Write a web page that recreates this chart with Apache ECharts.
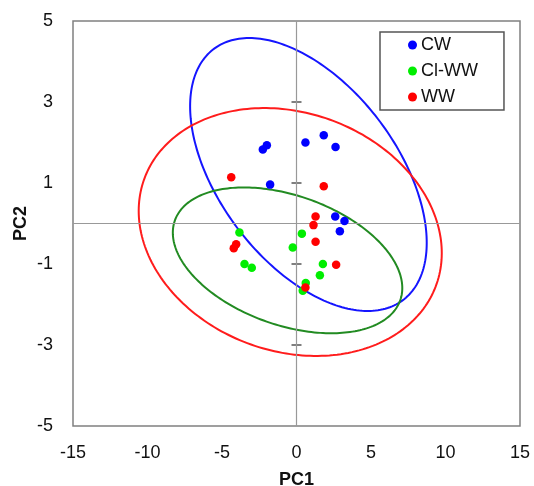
<!DOCTYPE html>
<html>
<head>
<meta charset="utf-8">
<script src="https://cdn.jsdelivr.net/npm/echarts@6/dist/echarts.min.js"></script>
<style>
html,body{margin:0;padding:0;background:#fff;}
#chart{width:534px;height:486px;}
</style>
</head>
<body>
<div id="chart"></div>
<script>
// ---- data ----
const groupNames = ['CW', 'Cl-WW', 'WW'];
const cwPoints = [[-2.26, 1.83], [-1.99, 1.93], [0.60, 2.00], [1.83, 2.18], [2.62, 1.89], [-1.77, 0.96], [2.60, 0.17], [3.22, 0.06], [2.91, -0.19]];
const clwwPoints = [[-3.83, -0.22], [0.36, -0.25], [-0.25, -0.59], [-3.49, -1.00], [-3.00, -1.09], [1.77, -1.00], [1.57, -1.28], [0.62, -1.47], [0.42, -1.66]];
const wwPoints = [[-4.38, 1.14], [1.83, 0.92], [1.28, 0.17], [1.14, -0.04], [1.28, -0.45], [-4.05, -0.51], [-4.21, -0.61], [2.66, -1.02], [0.60, -1.58]];
// confidence ellipses: centre, half-extent on PC1, half-extent on PC2, correlation
const ellipseCenters = [[0.80, 1.21], [-0.60, -0.91], [-0.42, -0.21]];
const ellipseHalfPC1 = [7.94, 7.70, 10.17];
const ellipseHalfPC2 = [3.37, 1.80, 3.06];
const ellipseCorr = [-0.50, -0.38, -0.17];
const xTicks = [-15, -10, -5, 0, 5, 10, 15];
const yTicks = [-5, -3, -1, 1, 3, 5];
const centerTicks = [-3, -1, 1, 3];

const pointColors = ['#0000ff', '#00ee00', '#ff0000'];
const ellipseColors = ['#1515ff', '#228b22', '#ff1c1c'];
const groupPoints = [cwPoints, clwwPoints, wwPoints];

const chart = echarts.init(document.getElementById('chart'));
const font = '"Liberation Sans", Arial, sans-serif';

const ellipseSeries = groupNames.map((name, i) => ({
  type: 'custom',
  name: name + ' ellipse',
  silent: true,
  z: 3,
  data: [ellipseCenters[i]],
  renderItem: function (params, api) {
    const c = ellipseCenters[i];
    const hx = ellipseHalfPC1[i], hy = ellipseHalfPC2[i], r = ellipseCorr[i];
    const s = Math.sqrt(1 - r * r);
    const pts = [];
    const n = 240;
    for (let k = 0; k <= n; k++) {
      const t = 2 * Math.PI * k / n;
      pts.push(api.coord([c[0] + hx * Math.cos(t), c[1] + hy * (r * Math.cos(t) + s * Math.sin(t))]));
    }
    return {
      type: 'polyline',
      shape: { points: pts },
      style: { stroke: ellipseColors[i], lineWidth: 2, fill: null }
    };
  }
}));

const tickSeries = {
  type: 'custom',
  name: 'centre ticks',
  silent: true,
  z: 2,
  data: centerTicks.map(v => [0, v]),
  renderItem: function (params, api) {
    const p = api.coord([api.value(0), api.value(1)]);
    return {
      type: 'line',
      shape: { x1: p[0] - 5, y1: p[1], x2: p[0] + 5, y2: p[1] },
      style: { stroke: '#555', lineWidth: 1.5 }
    };
  }
};

const scatterSeries = groupNames.map((name, i) => ({
  type: 'scatter',
  name: name,
  z: 5,
  symbol: 'circle',
  symbolSize: 8.5,
  itemStyle: { color: pointColors[i], opacity: 1 },
  data: groupPoints[i],
  markLine: i === 0 ? {
    silent: true,
    symbol: ['none', 'none'],
    label: { show: false },
    lineStyle: { color: '#999', width: 1.2, type: 'solid' },
    data: [{ xAxis: 0 }, { yAxis: 0 }]
  } : undefined
}));

chart.setOption({
  animation: false,
  backgroundColor: '#ffffff',
  grid: {
    left: 73, right: 14, top: 21, bottom: 60,
    outerBoundsMode: 'none',
    containLabel: false,
    show: true, borderColor: '#808080', borderWidth: 1.5, backgroundColor: 'transparent'
  },
  legend: {
    data: groupNames,
    orient: 'vertical',
    left: 380, top: 32,
    padding: [4, 26, 4, 28],
    itemGap: 8,
    itemWidth: 9, itemHeight: 9,
    icon: 'circle',
    borderColor: '#555', borderWidth: 1.5,
    backgroundColor: '#fff',
    textStyle: { fontFamily: font, fontSize: 18, color: '#111', padding: [0, 0, 0, -1] }
  },
  xAxis: {
    type: 'value',
    min: xTicks[0], max: xTicks[xTicks.length - 1], interval: 5,
    axisLine: { show: false, onZero: false },
    axisTick: { show: false },
    splitLine: { show: false },
    axisLabel: { fontFamily: font, fontSize: 18, color: '#111', margin: 18 },
    name: 'PC1',
    nameLocation: 'middle',
    nameGap: 45,
    nameMoveOverlap: false,
    nameTextStyle: { fontFamily: font, fontSize: 18, fontWeight: 'bold', color: '#111' }
  },
  yAxis: {
    type: 'value',
    min: yTicks[0], max: yTicks[yTicks.length - 1], interval: 2,
    axisLine: { show: false, onZero: false },
    axisTick: { show: false },
    splitLine: { show: false },
    axisLabel: { fontFamily: font, fontSize: 18, color: '#111', margin: 20 },
    name: 'PC2',
    nameLocation: 'middle',
    nameGap: 43,
    nameMoveOverlap: false,
    nameTextStyle: { fontFamily: font, fontSize: 18, fontWeight: 'bold', color: '#111' }
  },
  series: [...ellipseSeries, tickSeries, ...scatterSeries]
});
</script>
</body>
</html>
